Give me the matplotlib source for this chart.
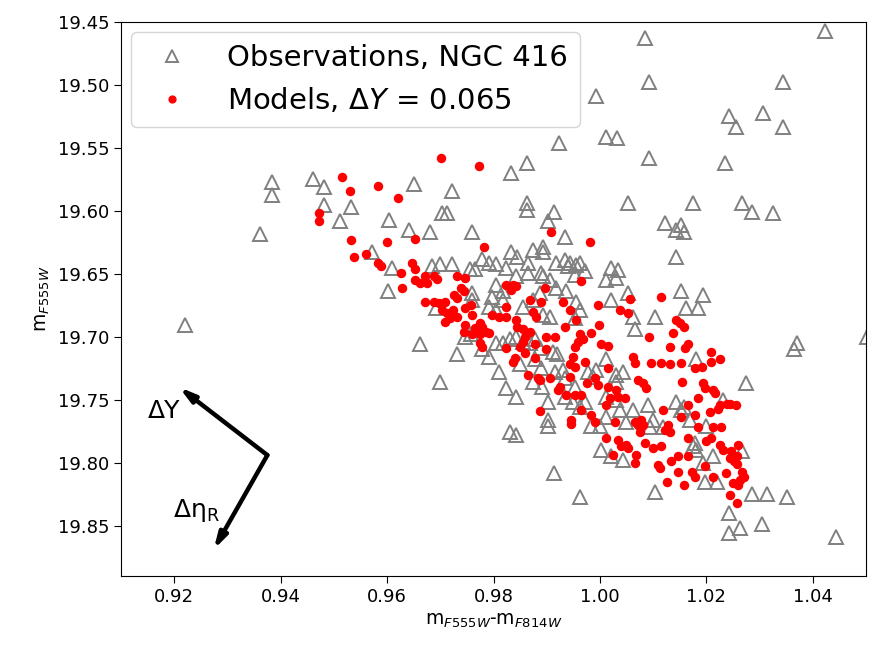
import matplotlib
matplotlib.use("Agg")
import matplotlib.pyplot as plt

# Observations (NGC 416): colour m_F555W - m_F814W, magnitude m_F555W
obs_color = [1.0085, 1.0423, 1.0092, 1.0343, 0.9992, 1.0306, 1.0242, 1.0255, 1.0343, 1.0011, 1.0032, 0.9923, 1.0092, 1.0234, 0.9862, 0.9832, 0.9862, 0.9862, 0.9913, 1.0053, 1.0174, 1.0266, 1.0285, 1.0325, 0.9383, 0.9383, 0.9460, 0.9481, 0.9651, 0.9721, 0.9481, 0.9532, 0.9704, 0.9713, 0.9604, 0.9511, 0.9362, 0.9221, 0.9642, 0.9681, 0.9760, 0.9902, 0.9934, 1.0123, 1.0143, 1.0153, 1.0157, 1.0143, 0.9572, 0.9609, 0.9602, 0.9685, 0.9700, 0.9721, 0.9755, 0.9766, 0.9779, 0.9792, 0.9804, 0.9823, 0.9832, 0.9845, 0.9864, 0.9874, 0.9892, 0.9892, 0.9917, 0.9934, 0.9943, 0.9955, 0.9940, 0.9962, 0.9953, 0.9972, 1.0021, 1.0034, 1.0011, 1.0030, 0.9842, 0.9864, 0.9892, 0.9906, 0.9917, 0.9936, 0.9804, 0.9817, 0.9798, 0.9817, 0.9792, 0.9804, 0.9760, 0.9760, 0.9887, 0.9874, 0.9855, 0.9892, 0.9906, 0.9955, 0.9962, 0.9691, 0.9953, 1.0021, 1.0053, 1.0062, 1.0066, 1.0104, 1.0153, 1.0194, 1.0162, 1.0185, 0.9662, 0.9732, 0.9700, 0.9811, 0.9823, 0.9842, 0.9902, 0.9902, 0.9902, 0.9830, 0.9842, 0.9913, 0.9849, 0.9915, 0.9930, 0.9934, 0.9874, 0.9891, 0.9953, 0.9934, 0.9962, 0.9779, 0.9792, 0.9747, 0.9757, 0.9804, 0.9817, 0.9830, 0.9842, 0.9855, 0.9868, 0.9877, 0.9887, 0.9911, 0.9919, 1.0011, 1.0043, 1.0030, 0.9992, 0.9987, 0.9977, 0.9949, 0.9972, 1.0011, 1.0030, 1.0038, 1.0011, 1.0000, 0.9983, 1.0062, 1.0091, 1.0100, 1.0094, 1.0119, 1.0049, 1.0002, 1.0021, 1.0043, 1.0181, 1.0274, 1.0153, 1.0170, 1.0200, 1.0232, 1.0175, 1.0181, 1.0179, 1.0194, 1.0213, 1.0198, 1.0219, 1.0266, 1.0285, 1.0313, 1.0351, 0.9962, 1.0104, 1.0242, 1.0242, 1.0264, 1.0304, 1.0443, 1.0370, 1.0364, 1.0502, 0.9889, 0.9877, 0.9889, 1.0030, 1.0142, 1.0157]
obs_mag = [19.463, 19.457, 19.498, 19.498, 19.509, 19.522, 19.525, 19.533, 19.533, 19.541, 19.542, 19.546, 19.558, 19.562, 19.562, 19.570, 19.594, 19.599, 19.601, 19.594, 19.594, 19.594, 19.601, 19.602, 19.577, 19.587, 19.575, 19.581, 19.579, 19.584, 19.595, 19.597, 19.602, 19.602, 19.607, 19.608, 19.618, 19.691, 19.615, 19.617, 19.617, 19.608, 19.621, 19.610, 19.615, 19.611, 19.617, 19.637, 19.633, 19.645, 19.664, 19.644, 19.642, 19.642, 19.646, 19.646, 19.638, 19.641, 19.642, 19.645, 19.633, 19.637, 19.641, 19.631, 19.629, 19.633, 19.641, 19.639, 19.641, 19.643, 19.644, 19.641, 19.651, 19.648, 19.645, 19.647, 19.655, 19.653, 19.652, 19.649, 19.652, 19.655, 19.661, 19.664, 19.659, 19.664, 19.668, 19.671, 19.676, 19.679, 19.665, 19.671, 19.665, 19.671, 19.676, 19.683, 19.684, 19.672, 19.679, 19.677, 19.685, 19.671, 19.665, 19.684, 19.694, 19.684, 19.664, 19.667, 19.677, 19.677, 19.706, 19.714, 19.736, 19.728, 19.741, 19.748, 19.752, 19.766, 19.771, 19.776, 19.778, 19.808, 19.722, 19.728, 19.726, 19.733, 19.736, 19.740, 19.740, 19.748, 19.756, 19.710, 19.716, 19.700, 19.698, 19.705, 19.705, 19.702, 19.700, 19.704, 19.705, 19.702, 19.709, 19.712, 19.714, 19.718, 19.728, 19.736, 19.726, 19.732, 19.728, 19.752, 19.752, 19.748, 19.750, 19.758, 19.764, 19.771, 19.771, 19.758, 19.754, 19.766, 19.772, 19.772, 19.768, 19.790, 19.795, 19.798, 19.718, 19.737, 19.758, 19.766, 19.771, 19.750, 19.787, 19.790, 19.784, 19.800, 19.795, 19.815, 19.815, 19.791, 19.825, 19.825, 19.827, 19.827, 19.823, 19.840, 19.856, 19.852, 19.849, 19.859, 19.705, 19.710, 19.700, 19.649, 19.718, 19.725, 19.730, 19.752, 19.756]

# Models, Delta Y = 0.065
mod_color = [0.9702, 0.9772, 0.9515, 0.9530, 0.9583, 0.9621, 0.9472, 0.9472, 0.9532, 0.9600, 0.9538, 0.9560, 0.9583, 0.9589, 0.9626, 0.9628, 0.9653, 0.9783, 0.9908, 0.9981, 0.9647, 0.9653, 0.9653, 0.9662, 0.9672, 0.9675, 0.9689, 0.9694, 0.9732, 0.9747, 0.9738, 0.9726, 0.9732, 0.9745, 0.9672, 0.9689, 0.9698, 0.9709, 0.9704, 0.9713, 0.9723, 0.9719, 0.9709, 0.9732, 0.9747, 0.9757, 0.9760, 0.9823, 0.9836, 0.9842, 0.9832, 0.9896, 0.9868, 0.9889, 0.9930, 0.9943, 0.9823, 0.9798, 0.9811, 0.9774, 0.9766, 0.9779, 0.9785, 0.9747, 0.9745, 0.9760, 0.9774, 0.9792, 0.9842, 0.9845, 0.9855, 0.9874, 0.9879, 0.9934, 0.9955, 0.9964, 1.0057, 1.0115, 0.9996, 1.0038, 1.0053, 0.9998, 0.9983, 0.9962, 0.9968, 0.9958, 0.9953, 1.0002, 1.0015, 1.0142, 1.0151, 1.0157, 1.0138, 1.0092, 0.9775, 0.9779, 0.9823, 0.9840, 0.9836, 0.9849, 0.9855, 0.9860, 0.9868, 0.9860, 0.9877, 0.9877, 0.9898, 0.9898, 0.9915, 0.9864, 0.9883, 0.9887, 0.9906, 0.9925, 0.9921, 0.9943, 0.9953, 0.9949, 0.9887, 0.9945, 0.9945, 0.9964, 0.9964, 0.9972, 0.9943, 0.9975, 0.9991, 0.9996, 1.0015, 1.0030, 0.9936, 0.9983, 0.9991, 1.0011, 1.0028, 1.0047, 1.0066, 1.0072, 1.0077, 1.0081, 1.0075, 1.0085, 1.0011, 1.0034, 1.0040, 1.0049, 1.0053, 1.0025, 1.0066, 1.0068, 1.0100, 1.0115, 1.0109, 1.0113, 1.0123, 1.0128, 1.0132, 1.0119, 1.0153, 1.0155, 1.0166, 1.0179, 1.0185, 1.0185, 1.0194, 1.0198, 1.0213, 1.0217, 1.0206, 1.0221, 1.0225, 1.0228, 1.0238, 1.0255, 1.0213, 1.0209, 1.0200, 1.0226, 1.0232, 1.0247, 1.0257, 1.0260, 1.0245, 1.0251, 1.0257, 1.0266, 1.0270, 1.0264, 1.0260, 1.0250, 1.0245, 1.0257, 1.0166, 1.0166, 1.0147, 1.0134, 1.0147, 1.0172, 1.0179, 1.0198, 1.0213, 1.0236, 1.0157, 1.0125, 1.0132, 1.0160, 1.0166, 1.0209, 1.0209, 1.0226, 1.0179, 1.0191, 1.0153, 1.0132, 1.0115, 1.0096, 1.0066, 1.0062, 1.0072, 1.0081, 1.0087, 1.0015, 1.0019, 1.0034, 1.0245, 0.9953, 0.9823]
mod_mag = [19.558, 19.564, 19.573, 19.584, 19.580, 19.590, 19.602, 19.608, 19.623, 19.625, 19.637, 19.634, 19.641, 19.644, 19.649, 19.661, 19.622, 19.629, 19.617, 19.625, 19.641, 19.646, 19.655, 19.657, 19.652, 19.657, 19.652, 19.654, 19.652, 19.653, 19.661, 19.667, 19.669, 19.664, 19.672, 19.672, 19.673, 19.672, 19.679, 19.681, 19.679, 19.685, 19.688, 19.684, 19.677, 19.675, 19.683, 19.659, 19.659, 19.660, 19.663, 19.661, 19.671, 19.672, 19.672, 19.679, 19.676, 19.683, 19.684, 19.689, 19.693, 19.692, 19.696, 19.691, 19.696, 19.698, 19.698, 19.697, 19.687, 19.692, 19.694, 19.680, 19.684, 19.692, 19.687, 19.656, 19.670, 19.668, 19.675, 19.679, 19.681, 19.691, 19.697, 19.698, 19.702, 19.704, 19.708, 19.706, 19.707, 19.687, 19.689, 19.692, 19.697, 19.700, 19.705, 19.708, 19.709, 19.717, 19.720, 19.708, 19.704, 19.700, 19.696, 19.713, 19.706, 19.717, 19.710, 19.700, 19.700, 19.730, 19.733, 19.734, 19.733, 19.740, 19.742, 19.732, 19.724, 19.716, 19.759, 19.766, 19.769, 19.758, 19.746, 19.720, 19.722, 19.737, 19.733, 19.738, 19.740, 19.742, 19.746, 19.762, 19.768, 19.754, 19.768, 19.749, 19.768, 19.770, 19.766, 19.770, 19.776, 19.784, 19.780, 19.782, 19.787, 19.786, 19.788, 19.794, 19.800, 19.794, 19.788, 19.787, 19.802, 19.804, 19.774, 19.770, 19.776, 19.758, 19.764, 19.736, 19.754, 19.762, 19.772, 19.749, 19.737, 19.741, 19.742, 19.745, 19.760, 19.757, 19.754, 19.772, 19.753, 19.754, 19.772, 19.780, 19.783, 19.786, 19.790, 19.791, 19.795, 19.786, 19.796, 19.799, 19.801, 19.807, 19.811, 19.814, 19.818, 19.816, 19.826, 19.832, 19.795, 19.780, 19.795, 19.799, 19.807, 19.807, 19.811, 19.803, 19.811, 19.808, 19.818, 19.815, 19.708, 19.709, 19.706, 19.712, 19.720, 19.718, 19.725, 19.724, 19.721, 19.722, 19.721, 19.721, 19.721, 19.716, 19.734, 19.737, 19.741, 19.725, 19.749, 19.748, 19.753, 19.746, 19.684]

obs_label = "Observations, NGC 416"
mod_label = r"Models, $\Delta Y$ = 0.065"

# Direction arrows (data coordinates)
arrow_origin = (0.9375, 19.794)
arrow_dY_tip = (0.9209, 19.740)
arrow_deta_tip = (0.9274, 19.869)

fig = plt.figure(figsize=(8.86, 6.59), dpi=100)
ax = fig.add_axes([0.1366, 0.1259, 0.8409, 0.8407])

ax.plot(obs_color, obs_mag, linestyle="none", marker="^", ms=9.5,
        mfc="none", mec="gray", mew=1.4, label=obs_label)
ax.plot(mod_color, mod_mag, linestyle="none", marker="o", ms=5.8,
        color="red", label=mod_label)

ax.set_xlim(0.91, 1.05)
ax.set_ylim(19.89, 19.45)
ax.set_xticks([0.92, 0.94, 0.96, 0.98, 1.00, 1.02, 1.04])
ax.set_yticks([19.45, 19.50, 19.55, 19.60, 19.65, 19.70, 19.75, 19.80, 19.85])
ax.tick_params(labelsize=13, length=5)
ax.set_xlabel(r"m$_{F555W}$-m$_{F814W}$", fontsize=13.5)
ax.set_ylabel(r"m$_{F555W}$", fontsize=13.5)

ax.legend(loc="upper left", fontsize=21, handletextpad=0.9,
          borderaxespad=0.35, markerscale=0.85)

for tip in (arrow_dY_tip, arrow_deta_tip):
    ax.annotate("", xy=tip, xytext=arrow_origin,
                arrowprops=dict(arrowstyle="-|>,head_width=0.25,head_length=0.9",
                                lw=3.2, color="black", shrinkA=0, shrinkB=0))
ax.text(0.9181, 19.759, "ΔY", fontsize=18, ha="center", va="center")
ax.text(0.9242, 19.838, r"Δη$_{\mathrm{R}}$", fontsize=18, ha="center", va="center")

fig.savefig("out.png", dpi=100)
